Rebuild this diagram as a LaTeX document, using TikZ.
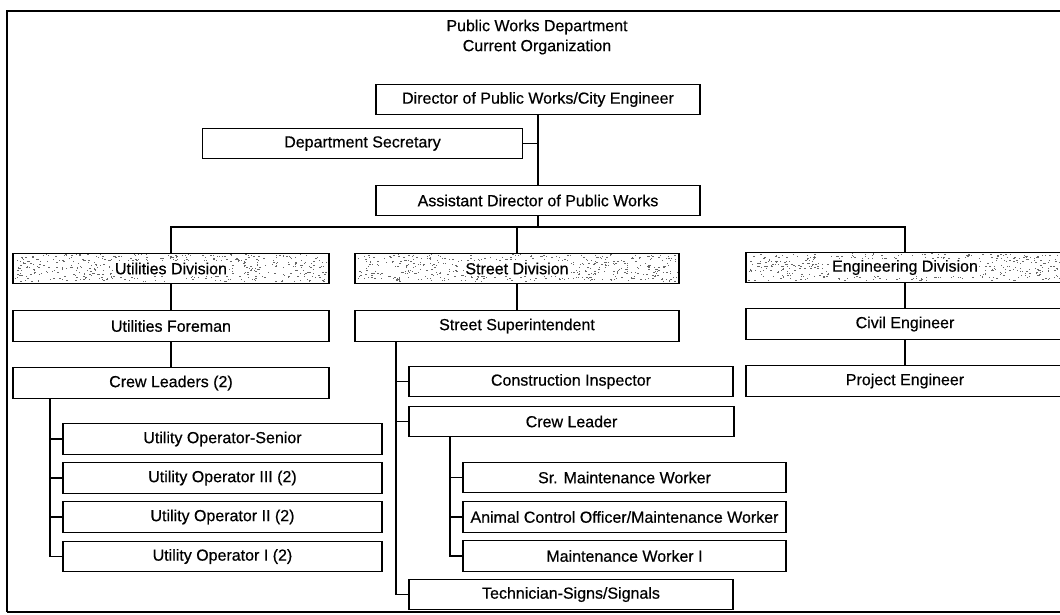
\documentclass[tikz,border=0pt]{standalone}
\usepackage{fontspec}
\setmainfont{Liberation Sans}[FakeBold=0.5]
\newcommand\stipplebox[4]{%
  \foreach \k in {1,...,520}{%
    \pgfmathsetmacro\px{#1+2+rnd*(#3-#1-4)}%
    \pgfmathsetmacro\py{#2+2+rnd*(#4-#2-4)}%
    \pgfmathsetmacro\pl{0.4+rnd*1.8}%
    \fill[black!60] (\px,\py) rectangle ++(\pl pt,0.9pt);
  }%
}
\begin{document}
\begin{tikzpicture}[x=1pt,y=-1pt,
  box/.style={draw,line width=1.4pt,minimum height=30.5pt,inner sep=0pt,
    font=\fontsize{16}{19}\selectfont},
  divbox/.style={box},
  link/.style={line width=1.4pt},
  frame/.style={line width=2.8pt}]
\useasboundingbox (0,0) rectangle (1060,614);
\clip (0,0) rectangle (1060,614);
\pgfmathsetseed{11}
\setlength\fboxsep{1.5pt}

% outer frame
\draw[frame] (7,612) -- (7,11) -- (1075,11);
\draw[frame] (7,612) -- (1075,612);

% title
\node[align=center,font=\fontsize{16}{20}\selectfont] (title) at (537,37)
  {Public Works Department\\Current Organization};

% stipple backgrounds of division boxes
\stipplebox{13}{253}{329}{284}
\stipplebox{355}{253}{679}{284}
\stipplebox{746}{252}{1064}{283}

% top
\node[box,minimum width=324pt] (dir) at (538,99.5) {Director of Public Works/City Engineer};
\node[box,minimum width=320pt,minimum height=30pt] (sec) at (362.5,143.5) {Department Secretary};
\node[box,minimum width=324pt] (asst) at (538,200.5) {Assistant Director of Public Works};

% divisions
\node[divbox,minimum width=316pt] (util) at (171,268.5) {\colorbox{white}{Utilities Division}};
\node[divbox,minimum width=324pt] (street) at (517,268.5) {\colorbox{white}{Street Division}};
\node[divbox,minimum width=318pt] (eng) at (905,267.5) {\colorbox{white}{Engineering Division}};

% utilities
\node[box,minimum width=316pt] (uf) at (171,326) {Utilities Foreman};
\node[box,minimum width=316pt] (cl) at (171,383) {Crew Leaders (2)};
\node[box,minimum width=319pt] (uo1) at (222.5,439) {Utility Operator-Senior};
\node[box,minimum width=319pt] (uo2) at (222.5,478) {Utility Operator III (2)};
\node[box,minimum width=319pt] (uo3) at (222.5,517) {Utility Operator II (2)};
\node[box,minimum width=319pt] (uo4) at (222.5,556.5) {Utility Operator I (2)};

% street
\node[box,minimum width=324pt] (ss) at (517,326) {Street Superintendent};
\node[box,minimum width=324pt] (ci) at (571,381.5) {Construction Inspector};
\node[box,minimum width=325pt] (crl) at (571.5,421.5) {Crew Leader};
\node[box,minimum width=323pt] (smw) at (624.5,477.5) {Sr. Maintenance Worker};
\node[box,minimum width=323pt] (acm) at (624.5,517) {Animal Control Officer/Maintenance Worker};
\node[box,minimum width=323pt] (mw1) at (624.5,556) {Maintenance Worker I};
\node[box,minimum width=324pt] (tech) at (571,594.5) {Technician-Signs/Signals};

% engineering
\node[box,minimum width=318pt] (civ) at (905,324) {Civil Engineer};
\node[box,minimum width=318pt] (proj) at (905,381) {Project Engineer};

% branch coordinates
\coordinate (bus) at (538,227);
\coordinate (cbx) at (50,0);
\coordinate (sbx) at (396,0);
\coordinate (c2x) at (450,0);

% connectors
\draw[link] (dir.south) -- (asst.north);
\draw[link] (sec.east) -- (sec.east -| dir.south);
\draw[link] (asst.south) -- (bus);
\draw[link] (util.north) -- (util.north |- bus) -- (eng.north |- bus) -- (eng.north);
\draw[link] (street.north) -- (street.north |- bus);

\draw[link] (util.south) -- (uf.north);
\draw[link] (uf.south) -- (cl.north);
\draw[link] (cl.south -| cbx) |- (uo4.west);
\draw[link] (uo1.west -| cbx) -- (uo1.west);
\draw[link] (uo2.west -| cbx) -- (uo2.west);
\draw[link] (uo3.west -| cbx) -- (uo3.west);

\draw[link] (street.south) -- (ss.north);
\draw[link] (ss.south -| sbx) |- (tech.west);
\draw[link] (ci.west -| sbx) -- (ci.west);
\draw[link] (crl.west -| sbx) -- (crl.west);
\draw[link] (crl.south -| c2x) |- (mw1.west);
\draw[link] (smw.west -| c2x) -- (smw.west);
\draw[link] (acm.west -| c2x) -- (acm.west);

\draw[link] (eng.south) -- (civ.north);
\draw[link] (civ.south) -- (proj.north);
\end{tikzpicture}
\end{document}
